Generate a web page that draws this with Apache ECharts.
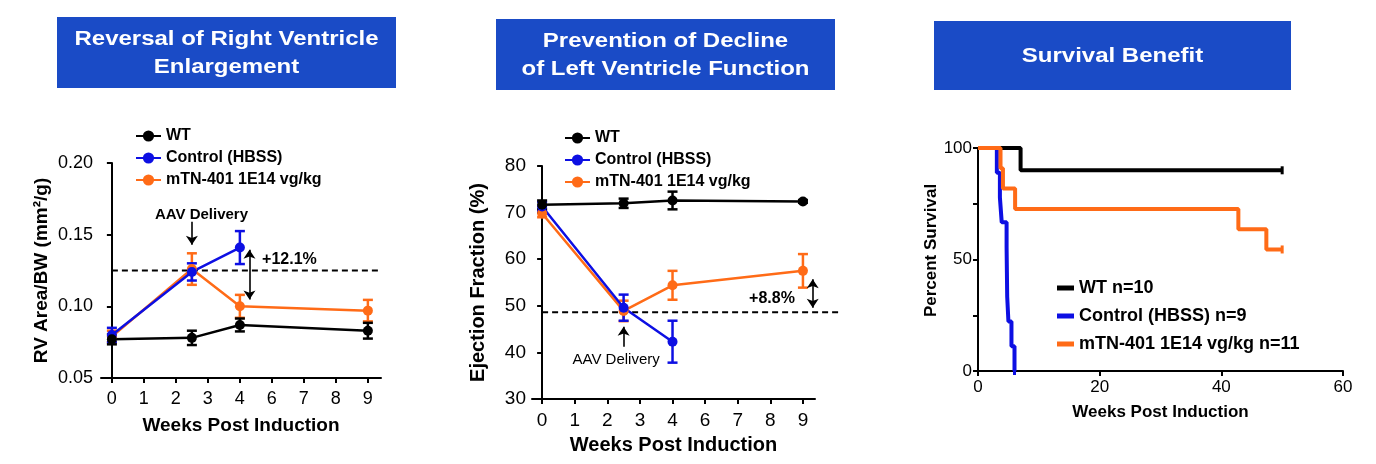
<!DOCTYPE html>
<html>
<head>
<meta charset="utf-8">
<title>mTN-401 efficacy</title>
<script src="https://cdn.jsdelivr.net/npm/echarts@6/dist/echarts.min.js"></script>
<style>
  html, body { margin: 0; padding: 0; background: #fff; }
</style>
</head>
<body>
<div id="main" style="width:1376px;height:464px;"></div>
<script type="text/javascript">
// ---- data ----
var weeks = [0, 2.5, 4, 9];
var weekTickLabels = ['0', '1', '2', '3', '4', '6', '7', '8', '9'];  // broken axis, no 5

// RV area / BW (mean, sem)
var rvWT = [0.077, 0.078, 0.087, 0.083];
var rvWTsem = [0.0035, 0.005, 0.0045, 0.0055];
var rvCtrl = [0.080, 0.124, 0.141];
var rvCtrlSem = [0.005, 0.006, 0.0115];
var rvMTN = [0.079, 0.126, 0.100, 0.097];
var rvMTNsem = [0.004, 0.011, 0.008, 0.0075];

// ejection fraction % (mean, sem)
var efWT = [71.7, 72.0, 72.6, 72.4];
var efWTsem = [0.9, 1.0, 1.9, 0.3];
var efCtrl = [71.3, 49.6, 42.3];
var efCtrlSem = [1.0, 2.8, 4.5];
var efMTN = [69.8, 48.9, 54.4, 57.5];
var efMTNsem = [0.8, 2.2, 3.1, 3.6];

// Kaplan-Meier steps
var kmWTtime = [0, 7, 50];
var kmWTsurv = [100, 90, 90];
var kmCtrlTime = [0, 3.1, 3.6, 3.9, 4.7, 4.75, 4.8, 5.0, 5.5, 6.0];
var kmCtrlSurv = [100, 88.9, 77.8, 66.7, 55.6, 44.4, 33.3, 22.2, 11.1, 0];
var kmMTNtime = [0, 3.7, 4.1, 6.1, 42.8, 47.4, 50];
var kmMTNsurv = [100, 90.9, 81.8, 72.7, 63.6, 54.5, 54.5];

var legendNames = ['WT', 'Control (HBSS)', 'mTN-401 1E14 vg/kg'];
var kmNames = ['WT n=10', 'Control (HBSS) n=9', 'mTN-401 1E14 vg/kg n=11'];

// annotations (data units)
var rvRef = 0.125, efRef = 48.6;

var BLACK = '#000000', BLUE = '#0d0fe3', ORANGE = '#ff6b17', BOX = '#1a4bc6';
var FONT = 'Liberation Sans, Arial, sans-serif';

// week 5 is skipped on the axis, so weeks after 4 move one slot left
function pos(w) { return w > 5 ? w - 1 : w; }

function pts(vals) {
    return vals.map(function (v, i) { return [pos(weeks[i]), v]; });
}

function errBars(name, vals, sem, color, gi) {
    return {
        name: name,
        type: 'custom',
        xAxisIndex: gi, yAxisIndex: gi,
        silent: true,
        data: vals.map(function (v, i) { return [pos(weeks[i]), v - sem[i], v + sem[i]]; }),
        encode: { x: 0, y: [1, 2] },
        renderItem: function (params, api) {
            var top = api.coord([api.value(0), api.value(2)]);
            var bot = api.coord([api.value(0), api.value(1)]);
            var w = 5;
            var st = { stroke: color, lineWidth: 2.5 };
            return {
                type: 'group',
                children: [
                    { type: 'line', shape: { x1: top[0], y1: top[1], x2: bot[0], y2: bot[1] }, style: st },
                    { type: 'line', shape: { x1: top[0] - w, y1: top[1], x2: top[0] + w, y2: top[1] }, style: st },
                    { type: 'line', shape: { x1: bot[0] - w, y1: bot[1], x2: bot[0] + w, y2: bot[1] }, style: st }
                ]
            };
        }
    };
}

function meanLine(name, vals, color, gi) {
    return {
        name: name,
        type: 'line',
        xAxisIndex: gi, yAxisIndex: gi,
        data: pts(vals),
        symbol: 'circle',
        symbolSize: 10,
        lineStyle: { color: color, width: 2.5 },
        itemStyle: { color: color },
        emphasis: { disabled: true }
    };
}

function kmLine(name, times, surv, color) {
    var d = times.map(function (t, i) { return [t, surv[i]]; });
    // censor tick on the last point
    d[d.length - 1] = { value: d[d.length - 1], symbol: 'rect', symbolSize: [3, 8] };
    return {
        name: name,
        type: 'line',
        xAxisIndex: 2, yAxisIndex: 2,
        step: 'end',
        data: d,
        symbol: 'none',
        showSymbol: true,
        lineStyle: { color: color, width: 4 },
        itemStyle: { color: color },
        emphasis: { disabled: true }
    };
}

// dashed reference line (custom, so it may run past the axis end) + arrows + notes
function annot(gi, refY, x0, x1, marks, texts) {
    return {
        name: 'annot' + gi,
        type: 'custom',
        xAxisIndex: gi, yAxisIndex: gi,
        silent: true,
        clip: false,
        data: [[x0, x1, refY]],
        encode: { x: [0, 1], y: 2 },
        renderItem: function (params, api) {
            var a = api.coord([api.value(0), api.value(2)]);
            var b = api.coord([api.value(1), api.value(2)]);
            return {
                type: 'line',
                shape: { x1: a[0], y1: a[1], x2: b[0], y2: b[1] },
                style: { stroke: BLACK, lineWidth: 2, lineDash: [6, 4] }
            };
        },
        markLine: {
            silent: true,
            animation: false,
            symbolSize: 9,
            label: { show: false },
            lineStyle: { color: BLACK, width: 1.6, type: 'solid' },
            data: marks
        },
        markPoint: {
            silent: true,
            symbol: 'circle',
            symbolSize: 1,
            itemStyle: { color: 'rgba(0,0,0,0)' },
            data: texts
        }
    };
}

function arrow(x, y0, y1, both) {
    return [{ coord: [x, y0], symbol: both ? 'arrow' : 'none' }, { coord: [x, y1], symbol: 'arrow' }];
}

function txt(x, y, s, size, weight) {
    return {
        coord: [x, y],
        label: { show: true, position: 'inside', formatter: s, color: BLACK, fontFamily: FONT, fontSize: size, fontWeight: weight }
    };
}

function weekAxis(gi, min, max, labelSize, nameSize, nameGap, margin) {
    return {
        type: 'value', gridIndex: gi, min: min, max: max,
        name: 'Weeks Post Induction', nameLocation: 'middle', nameGap: nameGap,
        nameTextStyle: { color: BLACK, fontFamily: FONT, fontSize: nameSize, fontWeight: 'bold' },
        axisLine: { onZero: false, lineStyle: { color: BLACK, width: 2 } },
        axisTick: { show: true, length: 5, lineStyle: { color: BLACK, width: 2 }, customValues: [0, 1, 2, 3, 4, 5, 6, 7, 8] },
        axisLabel: {
            color: BLACK, fontFamily: FONT, fontSize: labelSize, margin: margin,
            customValues: [0, 1, 2, 3, 4, 5, 6, 7, 8],
            formatter: function (v) { return weekTickLabels[Math.round(v)]; }
        },
        splitLine: { show: false }
    };
}

var titleBoxes = [
    { x: 57, y: 17, w: 339, h: 71, text: 'Reversal of Right Ventricle\nEnlargement' },
    { x: 496, y: 19, w: 339, h: 71, text: 'Prevention of Decline\nof Left Ventricle Function' },
    { x: 934, y: 21, w: 357, h: 69, text: 'Survival Benefit' }
];
var graphics = [];
titleBoxes.forEach(function (b) {
    graphics.push({ type: 'rect', shape: { x: b.x, y: b.y, width: b.w, height: b.h }, style: { fill: BOX } });
    graphics.push({
        type: 'text', x: b.x + b.w / 2, y: b.y + b.h / 2 + 1, scaleX: 1.2,
        style: { text: b.text, fill: '#fff', font: 'bold 20px ' + FONT, align: 'center', verticalAlign: 'middle', lineHeight: 28 }
    });
});

var legendText = { color: BLACK, fontFamily: FONT, fontSize: 16, fontWeight: 'bold', lineHeight: 14 };

var chart = echarts.init(document.getElementById('main'));
var option = {
    animation: false,
    graphic: graphics,
    grid: [
        { left: 101, top: 163, width: 280, height: 215 },
        { left: 532, top: 166, width: 283, height: 233 },
        { left: 978, top: 148, width: 365, height: 223 }
    ],
    legend: [
        { orient: 'vertical', left: 130, top: 123, itemWidth: 25, itemHeight: 14, itemGap: 6, data: legendNames, textStyle: legendText, selectedMode: false },
        { orient: 'vertical', left: 559, top: 125, itemWidth: 25, itemHeight: 14, itemGap: 6, data: legendNames, textStyle: legendText, selectedMode: false },
        {
            orient: 'vertical', left: 1052, top: 273, itemWidth: 17, itemHeight: 5, itemGap: 8, icon: 'rect',
            data: kmNames, selectedMode: false,
            textStyle: { color: BLACK, fontFamily: FONT, fontSize: 18, fontWeight: 'bold', lineHeight: 20 }
        }
    ],
    xAxis: [
        weekAxis(0, -0.34, 8.41, 18, 19, 38, 12),
        weekAxis(1, -0.31, 8.37, 19, 20, 36, 12),
        {
            type: 'value', gridIndex: 2, min: 0, max: 60, interval: 20,
            name: 'Weeks Post Induction', nameLocation: 'middle', nameGap: 33,
            nameTextStyle: { color: BLACK, fontFamily: FONT, fontSize: 17, fontWeight: 'bold' },
            axisLine: { onZero: false, lineStyle: { color: BLACK, width: 2 } },
            axisTick: { length: 5, lineStyle: { color: BLACK, width: 2 } },
            axisLabel: { color: BLACK, fontFamily: FONT, fontSize: 17, margin: 8 },
            splitLine: { show: false }
        }
    ],
    yAxis: [
        {
            type: 'value', gridIndex: 0, min: 0.05, max: 0.20, interval: 0.05,
            name: 'RV Area/BW (mm²/g)', nameLocation: 'middle', nameGap: 50,
            nameTextStyle: { color: BLACK, fontFamily: FONT, fontSize: 19, fontWeight: 'bold' },
            axisLine: { show: true, lineStyle: { color: BLACK, width: 2 } },
            axisTick: { show: true, length: 5, lineStyle: { color: BLACK, width: 2 } },
            axisLabel: { color: BLACK, fontFamily: FONT, fontSize: 18, margin: 8, formatter: function (v) { return v.toFixed(2); } },
            splitLine: { show: false }
        },
        {
            type: 'value', gridIndex: 1, min: 30, max: 80, interval: 10,
            name: 'Ejection Fraction (%)', nameLocation: 'middle', nameGap: 44,
            nameTextStyle: { color: BLACK, fontFamily: FONT, fontSize: 20, fontWeight: 'bold' },
            axisLine: { show: true, lineStyle: { color: BLACK, width: 2 } },
            axisTick: { show: true, length: 5, lineStyle: { color: BLACK, width: 2 } },
            axisLabel: { color: BLACK, fontFamily: FONT, fontSize: 19, margin: 6 },
            splitLine: { show: false }
        },
        {
            type: 'value', gridIndex: 2, min: 0, max: 100, interval: 25,
            name: 'Percent Survival', nameLocation: 'middle', nameGap: 38,
            nameTextStyle: { color: BLACK, fontFamily: FONT, fontSize: 17, fontWeight: 'bold', padding: [0, 0, 0, 18] },
            axisLine: { show: true, lineStyle: { color: BLACK, width: 2 } },
            axisTick: { show: true, length: 5, lineStyle: { color: BLACK, width: 2 } },
            axisLabel: {
                color: BLACK, fontFamily: FONT, fontSize: 17, margin: 6,
                formatter: function (v) { return v % 50 === 0 ? String(v) : ''; }
            },
            splitLine: { show: false }
        }
    ],
    series: [
        // RV panel
        annot(0, rvRef, 0, 8.4,
            [arrow(2.5, 0.159, 0.143, false), arrow(4.3, 0.1047, 0.1395, true)],
            [txt(2.8, 0.164, 'AAV Delivery', 15, 'bold'), txt(5.55, 0.1325, '+12.1%', 16, 'bold')]),
        errBars('mtn err rv', rvMTN, rvMTNsem, ORANGE, 0),
        meanLine('mTN-401 1E14 vg/kg', rvMTN, ORANGE, 0),
        errBars('ctrl err rv', rvCtrl, rvCtrlSem, BLUE, 0),
        meanLine('Control (HBSS)', rvCtrl, BLUE, 0),
        errBars('wt err rv', rvWT, rvWTsem, BLACK, 0),
        meanLine('WT', rvWT, BLACK, 0),

        // EF panel
        annot(1, efRef, 0, 9.14,
            [arrow(2.5, 41.2, 45.5, false), arrow(8.3, 49.6, 55.7, true)],
            [txt(2.27, 38.5, 'AAV Delivery', 15, 'normal'), txt(7.05, 51.5, '+8.8%', 16, 'bold')]),
        errBars('mtn err ef', efMTN, efMTNsem, ORANGE, 1),
        meanLine('mTN-401 1E14 vg/kg', efMTN, ORANGE, 1),
        errBars('ctrl err ef', efCtrl, efCtrlSem, BLUE, 1),
        meanLine('Control (HBSS)', efCtrl, BLUE, 1),
        errBars('wt err ef', efWT, efWTsem, BLACK, 1),
        meanLine('WT', efWT, BLACK, 1),

        // survival panel
        kmLine(kmNames[0], kmWTtime, kmWTsurv, BLACK),
        kmLine(kmNames[1], kmCtrlTime, kmCtrlSurv, BLUE),
        kmLine(kmNames[2], kmMTNtime, kmMTNsurv, ORANGE)
    ]
};
if (option && typeof option === 'object') {
    chart.setOption(option);
}
</script>
</body>
</html>
